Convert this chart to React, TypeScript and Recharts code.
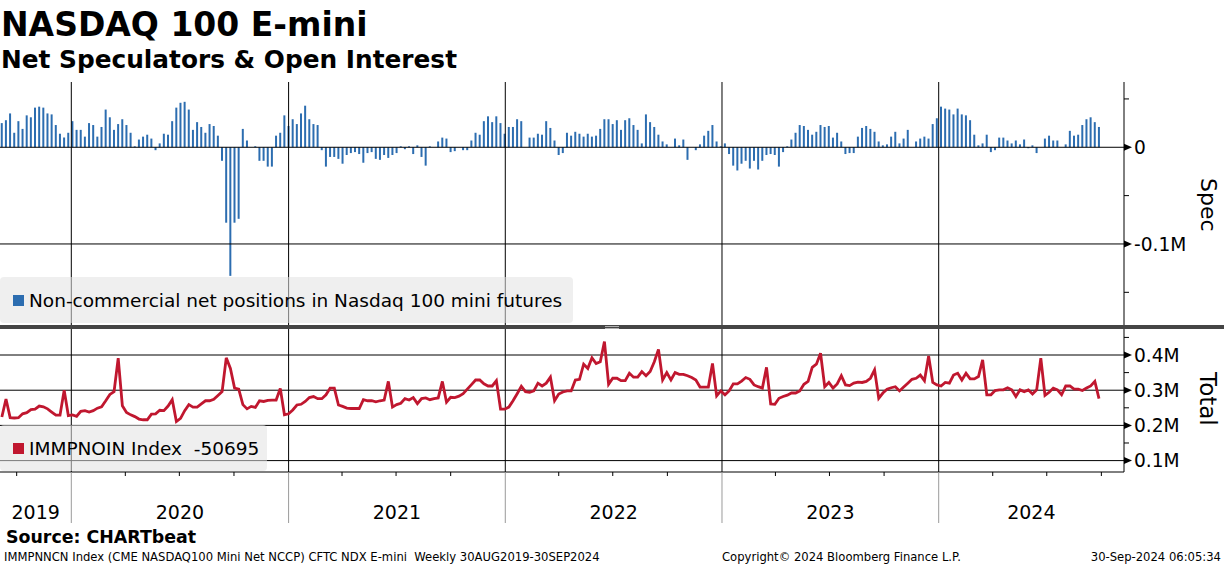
import React from 'react'
import { ComposedChart, Bar, Line, XAxis, YAxis, ReferenceLine } from 'recharts'

// weekly CFTC data, first report date
const firstWeek = [2019, 8, 6]

// non-commercial net positions, thousands of contracts
const netSpec = [
  25, 28, 35, 15, 27, 19, 33, 31, 41, 42, 41, 35, 34, 23, 14, 10, 15, 27, 18, 18,
  11, 25, 23, 11, 21, 39, 31, 18, 24, 29, 23, 15, 1, 8, 11, 13, 9, -3, 4, 14,
  13, 27, 41, 46, 47, 39, 18, 26, 21, 15, 24, 22, 12, -14, -78, -133, -78, -74, 19, 7,
  0, 1, -14, -14, -20, -20, 12, 15, 33, 22, 29, 24, 35, 43, 29, 24, 23, -3, -20, -10,
  -10, -12, -17, -8, -6, -5, -7, -16, -6, -5, -12, -13, -8, -11, -8, -6, 1, -2, 1, -7,
  2, -10, -19, 1, 0, 6, 10, 9, -5, -4, 0, -3, -3, 7, 15, 13, 27, 32, 26, 32,
  25, 14, 21, 21, 29, 27, 0, 10, 10, 14, 13, 27, 20, 7, -8, -6, 15, 12, 16, 14,
  11, 14, 11, 12, 19, 29, 29, 24, 28, 18, 28, 30, 23, 18, 4, 34, 26, 21, 13, 6,
  3, 0, 9, 2, 8, -13, 0, -3, 3, 12, 17, 23, 6, 1, 4, -7, -19, -24, -17, -14,
  -22, -14, -23, -14, -8, -7, -8, -20, -5, 1, 8, 15, 23, 22, 18, 13, 16, 23, 21, 22,
  10, 15, 6, -7, -6, -6, 11, 20, 22, 19, 16, 6, 2, 3, 11, 16, 4, 9, 18, 0,
  6, 9, 11, 9, 24, 30, 42, 40, 39, 34, 40, 34, 33, 28, 13, 2, 4, 13, -5, -3,
  10, 10, 7, 4, 7, 3, 8, -1, 2, -6, 0, 9, 12, 7, 7, 0, 3, 17, 12, 13,
  23, 29, 31, 26, 21,
]

// total open interest, thousands of contracts
const openInterest = [
  224, 275, 222, 221, 222, 233, 236, 245, 246, 255, 253, 247, 238, 229, 229, 300, 228, 230, 226, 240,
  242, 238, 242, 249, 253, 270, 288, 296, 391, 256, 237, 230, 225, 218, 216, 216, 232, 233, 243, 242,
  255, 273, 211, 220, 242, 259, 252, 252, 261, 270, 270, 274, 285, 296, 392, 362, 306, 303, 259, 247,
  254, 251, 270, 268, 271, 272, 272, 305, 230, 233, 244, 258, 260, 268, 279, 282, 276, 276, 287, 306,
  306, 258, 254, 249, 248, 248, 248, 273, 270, 270, 267, 270, 272, 325, 252, 259, 263, 276, 272, 279,
  262, 276, 278, 273, 276, 278, 325, 266, 280, 279, 283, 290, 303, 316, 329, 329, 318, 312, 312, 327,
  246, 246, 252, 270, 290, 311, 296, 294, 298, 320, 312, 320, 337, 270, 289, 295, 298, 298, 329, 331,
  374, 362, 392, 376, 381, 438, 317, 334, 334, 327, 327, 348, 337, 337, 353, 341, 353, 381, 416, 329,
  350, 329, 350, 345, 345, 341, 336, 329, 309, 309, 309, 376, 284, 298, 287, 298, 318, 318, 326, 336,
  331, 315, 310, 306, 365, 261, 260, 277, 282, 286, 292, 292, 298, 317, 325, 365, 374, 405, 310, 322,
  306, 318, 341, 315, 313, 320, 323, 322, 325, 334, 358, 277, 292, 303, 307, 310, 298, 309, 320, 331,
  334, 343, 327, 397, 322, 315, 312, 322, 320, 343, 348, 329, 348, 332, 332, 339, 386, 287, 287, 299,
  301, 301, 307, 301, 282, 301, 296, 301, 289, 301, 391, 285, 294, 306, 301, 287, 312, 312, 303, 303,
  299, 306, 312, 325, 276,
]

const years = [2019, 2020, 2021, 2022, 2023, 2024]
const yearLabels = ['2019', '2020', '2021', '2022', '2023', '2024']

const specTicks = [50, 0, -50, -100, -150]
const specLabels: Record<string, string> = { '0': '0', '-100': '-0.1M' }
const totalTicks = [450, 400, 350, 300, 250, 200, 150, 100]
const totalLabels: Record<string, string> = { '400': '0.4M', '300': '0.3M', '200': '0.2M', '100': '0.1M' }

const BLUE = '#2c6db0'
const RED = '#c0172f'
const FONT = '"DejaVu Sans", Verdana, sans-serif'

const dayOf = (y: number, m: number, d: number) => Date.UTC(y, m, d) / 86400000

const start = dayOf(firstWeek[0], firstWeek[1], firstWeek[2])
const data = netSpec.map((v, i) => ({
  t: start + 7 * i,
  net: v,
  total: openInterest[i],
}))

// horizontal layout of the plot area
const plotW = 1124
const jan2020 = dayOf(2020, 0, 1)
const pxPerDay = 867.4 / 1461
const xDomain: [number, number] = [jan2020 - 71.3 / pxPerDay, jan2020 + (plotW - 71.3) / pxPerDay]

const yearStarts = years.slice(1).map((y) => dayOf(y, 0, 1))
const quarterStarts: number[] = []
years.forEach((y) => {
  ;[3, 6, 9].forEach((m) => {
    const d = dayOf(y, m, 1)
    if (d > xDomain[0] && d < xDomain[1]) quarterStarts.push(d)
  })
})
const spanEdges = [xDomain[0], ...yearStarts, xDomain[1]]
const labelPos = years.map((_, i) => (spanEdges[i] + spanEdges[i + 1]) / 2)

const axisTicks = [
  ...yearStarts.map((v) => ({ v, kind: 'year', text: '' })),
  ...quarterStarts.map((v) => ({ v, kind: 'q', text: '' })),
  ...labelPos.map((v, i) => ({ v, kind: 'label', text: yearLabels[i] })),
]

function RightTick(props: any) {
  const { x, y, payload, labels } = props
  const label = labels[String(payload.value)]
  if (!label) {
    return <line x1={x} x2={x + 5} y1={y} y2={y} stroke='#000' />
  }
  return (
    <g>
      <path d={`M${x} ${y - 3.5}L${x + 8} ${y}L${x} ${y + 3.5}Z`} fill='#000' />
      <text x={x + 10} y={y} dy='0.36em' fontSize={18.6} fontFamily={FONT} fill='#000'>
        {label}
      </text>
    </g>
  )
}

function YearTick(props: any) {
  const { x, y, payload } = props
  const tk = axisTicks.find((a) => Math.abs(a.v - payload.value) < 0.01)
  if (!tk) return null
  if (tk.kind === 'year') {
    return <line x1={x} x2={x} y1={y} y2={y + 51} stroke='#9a9a9a' />
  }
  if (tk.kind === 'q') {
    return <line x1={x} x2={x} y1={y} y2={y + 4} stroke='#000' />
  }
  return (
    <text x={x} y={y + 47} textAnchor='middle' fontSize={19} fontFamily={FONT} fill='#000'>
      {tk.text}
    </text>
  )
}

function LegendBox({ top, width, color, text }: { top: number; width: number; color: string; text: string }) {
  return (
    <div
      style={{
        position: 'absolute',
        left: 0,
        top,
        width,
        height: 46,
        background: 'rgba(226,226,226,0.55)',
        borderRadius: 4,
      }}
    >
      <div style={{ position: 'absolute', left: 13, top: 18, width: 11, height: 11, background: color }} />
      <div
        style={{
          position: 'absolute',
          left: 29,
          top: 1,
          lineHeight: '46px',
          fontSize: 18.5,
          fontFamily: FONT,
          whiteSpace: 'pre',
          color: '#000',
        }}
      >
        {text}
      </div>
    </div>
  )
}

export default function App() {
  return (
    <div style={{ position: 'relative', width: 1224, height: 566, background: '#fff', overflow: 'hidden' }}>
      <style>{'body{margin:0}'}</style>

      <svg width={1224} height={566} style={{ position: 'absolute', left: 0, top: 0 }}>
        <text x={1} y={36} fontSize={33} fontWeight='bold' fontFamily={FONT}>
          NASDAQ 100 E-mini
        </text>
        <text x={1} y={68} fontSize={24.8} fontWeight='bold' fontFamily={FONT}>
          Net Speculators &amp; Open Interest
        </text>
        <text x={6} y={543} fontSize={17.4} fontWeight='bold' fontFamily={FONT}>
          Source: CHARTbeat
        </text>
        <text x={4} y={561} fontSize={11.6} fontFamily={FONT} style={{ whiteSpace: 'pre' }}>
          IMMPNNCN Index (CME NASDAQ100 Mini Net NCCP) CFTC NDX E-mini  Weekly 30AUG2019-30SEP2024
        </text>
        <text x={722} y={561} fontSize={11.6} fontFamily={FONT}>
          Copyright© 2024 Bloomberg Finance L.P.
        </text>
        <text x={1221} y={561} fontSize={11.6} fontFamily={FONT} textAnchor='end'>
          30-Sep-2024 06:05:34
        </text>
      </svg>

      <div style={{ position: 'absolute', left: 0, top: 0 }}>
        <ComposedChart width={1224} height={326} data={data} margin={{ top: 82, right: 0, bottom: 1, left: 0 }}>
          <XAxis dataKey='t' type='number' domain={xDomain} allowDataOverflow hide />
          <YAxis
            orientation='right'
            width={100}
            domain={[-183.8, 67.5]}
            ticks={specTicks}
            allowDataOverflow
            interval={0}
            axisLine={{ stroke: '#000' }}
            tickLine={false}
            tickSize={0}
            tickMargin={0}
            tick={(p: any) => <RightTick {...p} labels={specLabels} />}
          />
          <ReferenceLine y={0} stroke='#000' />
          <ReferenceLine y={-100} stroke='#000' />
          {yearStarts.map((v) => (
            <ReferenceLine key={v} x={v} stroke='#000' />
          ))}
          <Bar dataKey='net' fill={BLUE} barSize={2} isAnimationActive={false} />
        </ComposedChart>
      </div>

      <div style={{ position: 'absolute', left: 0, top: 329 }}>
        <ComposedChart width={1224} height={194} data={data} margin={{ top: 0, right: 0, bottom: 0, left: 0 }}>
          <XAxis
            dataKey='t'
            type='number'
            domain={xDomain}
            allowDataOverflow
            height={51}
            ticks={axisTicks.map((a) => a.v)}
            interval={0}
            axisLine={{ stroke: '#000' }}
            tickLine={false}
            tickSize={0}
            tickMargin={0}
            tick={(p: any) => <YearTick {...p} />}
          />
          <YAxis
            orientation='right'
            width={100}
            domain={[67.6, 473.9]}
            ticks={totalTicks}
            allowDataOverflow
            interval={0}
            axisLine={{ stroke: '#000' }}
            tickLine={false}
            tickSize={0}
            tickMargin={0}
            tick={(p: any) => <RightTick {...p} labels={totalLabels} />}
          />
          {[400, 300, 200, 100].map((v) => (
            <ReferenceLine key={v} y={v} stroke='#000' />
          ))}
          {yearStarts.map((v) => (
            <ReferenceLine key={v} x={v} stroke='#000' />
          ))}
          <Line
            dataKey='total'
            stroke={RED}
            strokeWidth={2.8}
            dot={false}
            isAnimationActive={false}
          />
        </ComposedChart>
      </div>

      <div style={{ position: 'absolute', left: 0, top: 325, width: 1224, height: 4, background: '#454545' }} />
      <div style={{ position: 'absolute', left: 605, top: 326, width: 14, height: 1, background: '#b0b0b0' }} />
      <div style={{ position: 'absolute', left: 605, top: 328, width: 14, height: 1, background: '#b0b0b0' }} />

      <LegendBox top={277} width={573} color={BLUE} text='Non-commercial net positions in Nasdaq 100 mini futures' />
      <LegendBox top={425} width={267} color={RED} text='IMMPNOIN Index  -50695' />

      <div
        style={{
          position: 'absolute',
          left: 1196,
          top: 178,
          writingMode: 'vertical-rl',
          fontSize: 22,
          lineHeight: '24px',
          fontFamily: FONT,
          color: '#000',
        }}
      >
        Spec
      </div>
      <div
        style={{
          position: 'absolute',
          left: 1195,
          top: 372,
          writingMode: 'vertical-rl',
          fontSize: 23,
          lineHeight: '26px',
          fontFamily: FONT,
          color: '#000',
        }}
      >
        Total
      </div>
    </div>
  )
}
